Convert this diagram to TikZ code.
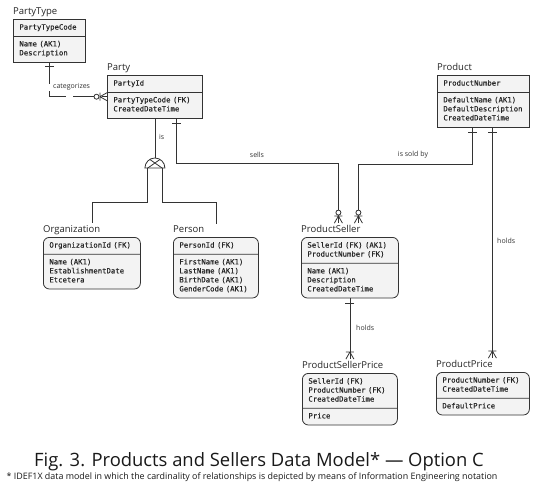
\documentclass[tikz,border=0pt]{standalone}
\usepackage{fontspec}
\setmainfont{Open Sans}
\newfontfamily\monofont[FakeBold=0.4]{DejaVu Sans Mono}
\usetikzlibrary{calc, shapes.multipart}
\definecolor{boxfill}{HTML}{F3F3F3}
\definecolor{ink}{HTML}{333333}
\newcommand{\fld}[1]{\strut#1\strut}

\begin{document}
\begin{tikzpicture}[x=1pt, y=-1pt,
  ent/.style={rectangle split, rectangle split parts=2, draw=ink, fill=boxfill,
    line width=0.8pt, inner xsep=6pt, inner ysep=3.5pt, align=left,
    anchor=north west, font=\monofont\fontsize{7.3}{9}\selectfont, text=black!85},
  dep/.style={ent, rounded corners=6pt},
  etitle/.style={anchor=base west, inner xsep=0pt, inner ysep=2pt,
    font=\fontsize{9.5}{11}\selectfont, text=black!85},
  rel/.style={draw=ink, line width=0.8pt},
  lbl/.style={font=\fontsize{7}{8}\selectfont, text=ink, inner sep=1pt},
  one/.pic={\draw[rel] (0,-4.5) -- (0,4.5);},
  many/.pic={\draw[rel] (-7,0) -- (0,-4) (-7,0) -- (0,4) (-7,-4) -- (-7,4);},
  zmany/.pic={\draw[rel] (-7,0) -- (0,-4) (-7,0) -- (0,4) (-7,-4) -- (-7,4);
    \draw[rel, fill=white] (-10.5,0) circle[radius=2.5pt];}
]
\fill[white] (0,0) rectangle (540,491);
\useasboundingbox (0,0) rectangle (540,491);

\node[ent, text width=60pt] (ptype) at (13,19)
  {\fld{PartyTypeCode}\nodepart{two}\fld{Name (AK1)\\Description}};
\node[ent, text width=83pt] (party) at (107,75)
  {\fld{PartyId}\nodepart{two}\fld{PartyTypeCode (FK)\\CreatedDateTime}};
\node[ent, text width=80pt] (prod) at (437,75)
  {\fld{ProductNumber}\nodepart{two}\fld{DefaultName (AK1)\\DefaultDescription\\CreatedDateTime}};
\node[dep, text width=85pt] (org) at (43,237)
  {\fld{OrganizationId (FK)}\nodepart{two}\fld{Name (AK1)\\EstablishmentDate\\Etcetera}};
\node[dep, text width=73pt] (pers) at (173,237)
  {\fld{PersonId (FK)}\nodepart{two}\fld{FirstName (AK1)\\LastName (AK1)\\BirthDate (AK1)\\GenderCode (AK1)}};
\node[dep, text width=85pt] (pseller) at (301,237)
  {\fld{SellerId (FK) (AK1)\\ProductNumber (FK)}\nodepart{two}\fld{Name (AK1)\\Description\\CreatedDateTime}};
\node[dep, text width=83pt] (psprice) at (302,373)
  {\fld{SellerId (FK)\\ProductNumber (FK)\\CreatedDateTime}\nodepart{two}\fld{Price}};
\node[dep, text width=81pt] (pprice) at (436,372)
  {\fld{ProductNumber (FK)\\CreatedDateTime}\nodepart{two}\fld{DefaultPrice}};

\foreach \e/\t in {ptype/PartyType, party/Party, prod/Product, org/Organization,
    pers/Person, pseller/ProductSeller, psprice/ProductSellerPrice, pprice/ProductPrice}
  \node[etitle] (\e-t) at ([yshift=4.5pt]\e.north west) {\t};

\draw[rel, dash pattern=on 22pt off 7pt] (ptype.south) |- (party.west);
\path (ptype.south) ++(0,4) pic[rotate=-90]{one};
\path (party.west) pic{zmany};
\node[lbl, anchor=west] (cat) at (52,87) {categorizes};

\coordinate (disc) at (party.south |- 0,168);
\draw[rel] (party.south) -- ([yshift=10pt]disc);
\draw[rel, fill=white] ([xshift=-10pt]disc) arc[start angle=180, end angle=0, radius=10pt] -- cycle;
\begin{scope}
  \clip ([xshift=-10pt]disc) arc[start angle=180, end angle=0, radius=10pt] -- cycle;
  \draw[rel] ($(disc)+(-10,-12)$) -- ($(disc)+(10,2)$)
             ($(disc)+(10,-12)$) -- ($(disc)+(-10,2)$);
\end{scope}
\draw[rel] ([xshift=-7.5pt]disc) -- ++(0,34) -| (org-t.north -| org.north);
\draw[rel] ([xshift=7.5pt]disc) -- ++(0,34) -| (pers-t.north -| pers.north);
\node[lbl, anchor=west] (isl) at (158,137) {is};

\coordinate (sellsend) at ($(pseller-t.north -| pseller.north)+(-11.5,0)$);
\coordinate (soldend) at ($(pseller-t.north -| pseller.north)+(8.5,0)$);
\coordinate (pholds) at ($(prod.south)+(9,0)$);
\draw[rel] ([xshift=21.5pt]party.south) -- ++(0,45) -| (sellsend);
\path ([xshift=21.5pt]party.south) ++(0,5) pic[rotate=-90]{one};
\path (sellsend) pic[rotate=-90]{zmany};
\node[lbl] (sells) at (257,155) {sells};

\draw[rel] ([xshift=-11pt]prod.south) -- ++(0,37) -| (soldend);
\path ([xshift=-11pt]prod.south) ++(0,5) pic[rotate=-90]{one};
\path (soldend) pic[rotate=-90]{zmany};
\node[lbl] (soldby) at (413,155) {is sold by};

\draw[rel] (pholds) -- (pholds |- pprice-t.north);
\path (pholds) ++(0,5) pic[rotate=-90]{one};
\path (pholds |- pprice-t.north) pic[rotate=-90]{many};
\node[lbl, anchor=west] (holdsp) at (496,241) {holds};

\draw[rel] (pseller.south) -- (pseller.south |- psprice-t.north);
\path (pseller.south) ++(0,5) pic[rotate=-90]{one};
\path (pseller.south |- psprice-t.north) pic[rotate=-90]{many};
\node[lbl, anchor=west] (holdsps) at (355,328) {holds};

\node[font=\fontsize{18.4}{21}\selectfont, text=black!90] (cap) at (259,462)
  {Fig. 3. Products and Sellers Data Model* — Option C};
\node[font=\fontsize{8.9}{10}\selectfont, text=black!90] (note) at (252,477)
  {* IDEF1X data model in which the cardinality of relationships is depicted by means of Information Engineering notation};
\end{tikzpicture}
\end{document}
